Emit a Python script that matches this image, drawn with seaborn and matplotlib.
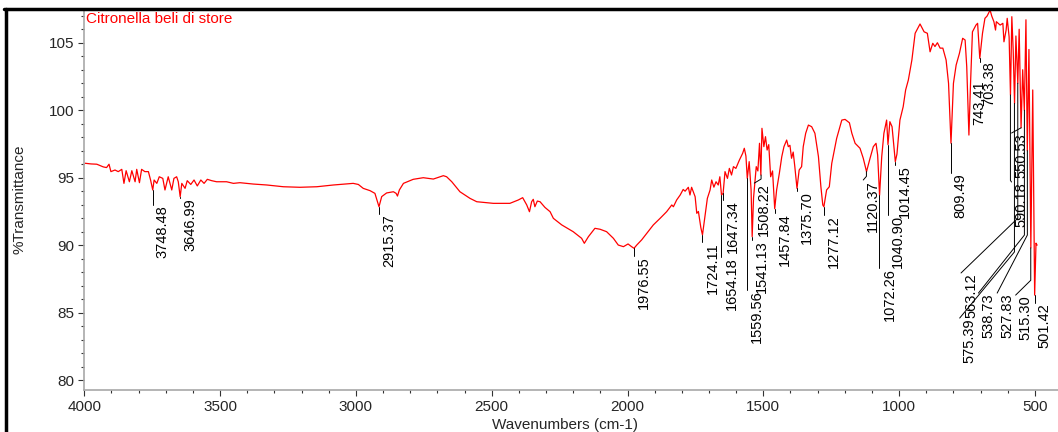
import matplotlib
matplotlib.use("Agg")
import numpy as np
import pandas as pd
import matplotlib.pyplot as plt
from matplotlib.lines import Line2D
from matplotlib.ticker import MultipleLocator
import seaborn as sns

# spectrum: wavenumber (cm-1) and %T
wavenumber = [3997, 3975, 3954, 3930, 3918, 3909, 3902, 3887, 3875, 3862, 3854, 3846,
              3834, 3825, 3813, 3807, 3797, 3789, 3777, 3764, 3756, 3748, 3743, 3733,
              3724, 3711, 3703, 3691, 3678, 3670, 3660, 3654, 3647, 3641, 3629, 3621,
              3608, 3596, 3584, 3571, 3559, 3547, 3531, 3513, 3476, 3451, 3427, 3378,
              3328, 3267, 3206, 3144, 3083, 3010, 2991, 2973, 2948, 2930, 2915, 2905,
              2887, 2862, 2852, 2847, 2840, 2825, 2789, 2752, 2715, 2678, 2666, 2647,
              2617, 2580, 2555, 2494, 2433, 2402, 2386, 2371, 2361, 2353, 2347, 2341,
              2332, 2322, 2304, 2285, 2273, 2242, 2200, 2169, 2159, 2144, 2120, 2101,
              2077, 2052, 2034, 2015, 1998, 1985, 1976, 1966, 1948, 1929, 1905, 1880,
              1856, 1837, 1831, 1819, 1806, 1795, 1788, 1776, 1770, 1764, 1751, 1745,
              1739, 1730, 1724, 1715, 1706, 1696, 1690, 1682, 1674, 1666, 1660, 1654,
              1648, 1641, 1632, 1625, 1617, 1610, 1601, 1588, 1576, 1570, 1564, 1559,
              1552, 1545, 1541, 1536, 1526, 1520, 1514, 1509, 1505, 1498, 1492, 1486,
              1480, 1473, 1466, 1458, 1451, 1441, 1432, 1424, 1414, 1408, 1402, 1396,
              1390, 1384, 1376, 1368, 1359, 1353, 1344, 1334, 1322, 1310, 1297, 1288,
              1281, 1277, 1267, 1257, 1248, 1230, 1211, 1199, 1183, 1174, 1162, 1144,
              1132, 1120, 1107, 1095, 1085, 1079, 1072, 1064, 1056, 1046, 1041, 1034,
              1026, 1019, 1014, 1008, 997, 985, 976, 966, 953, 941, 923, 908,
              896, 886, 876, 868, 859, 849, 839, 827, 818, 809, 800, 790,
              778, 766, 757, 751, 743, 737, 730, 717, 711, 703, 693, 684,
              676, 665, 659, 651, 645, 642, 628, 618, 614, 606, 602, 595,
              590, 585, 580, 575, 570, 563, 558, 551, 545, 539, 533, 528,
              522, 515, 508, 501, 496, 492]
transmittance = [96.07, 96.02, 96.00, 95.80, 95.75, 96.00, 95.45, 95.57, 95.45, 95.62, 94.58, 95.52,
                 94.70, 95.52, 94.70, 95.62, 94.63, 95.62, 95.45, 95.45, 94.83, 94.09, 94.83, 94.58,
                 95.07, 94.95, 94.09, 95.07, 94.09, 94.95, 95.07, 94.70, 93.59, 94.58, 94.21, 94.78,
                 94.50, 94.83, 94.39, 94.83, 94.58, 94.88, 94.78, 94.70, 94.70, 94.58, 94.63, 94.53,
                 94.46, 94.33, 94.29, 94.33, 94.46, 94.58, 94.50, 94.21, 94.04, 93.84, 92.85, 93.60,
                 93.87, 93.96, 93.84, 93.64, 94.09, 94.58, 94.88, 95.00, 94.90, 95.15, 95.07, 94.70,
                 93.96, 93.47, 93.22, 93.10, 93.10, 93.35, 93.52, 92.98, 92.48, 93.22, 93.40, 92.85,
                 93.27, 93.22, 92.80, 92.48, 91.99, 91.50, 91.00, 90.51, 90.14, 90.63, 91.25, 91.18,
                 91.00, 90.51, 90.01, 89.89, 90.09, 89.89, 89.77, 90.01, 90.39, 90.88, 91.50, 91.99,
                 92.48, 92.98, 92.85, 93.35, 93.72, 94.13, 94.00, 94.29, 93.72, 94.29, 93.59, 92.36,
                 92.50, 91.30, 90.76, 92.11, 93.47, 94.09, 94.83, 94.30, 94.70, 94.46, 95.07, 93.72,
                 93.84, 95.45, 94.95, 95.69, 95.20, 95.82, 95.69, 96.31, 96.81, 97.18, 96.60, 94.95,
                 96.19, 94.09, 90.63, 93.50, 95.82, 95.50, 97.55, 95.20, 98.66, 97.30, 98.04, 97.05,
                 97.45, 95.07, 95.50, 92.70, 94.09, 95.32, 96.56, 97.30, 97.79, 97.30, 97.40, 96.44,
                 96.90, 95.82, 94.21, 95.57, 95.82, 97.30, 98.29, 98.90, 98.78, 98.29, 96.56, 94.33,
                 92.98, 92.85, 94.09, 94.33, 96.06, 97.91, 99.27, 99.32, 99.07, 98.29, 97.55, 97.18,
                 96.44, 95.45, 96.44, 97.30, 97.55, 96.68, 93.70, 96.56, 98.29, 99.27, 97.45, 99.15,
                 98.78, 97.30, 96.19, 96.75, 99.27, 100.26, 101.50, 102.24, 103.72, 105.70, 106.39, 105.81,
                 105.70, 104.33, 104.96, 104.72, 105.00, 104.60, 104.60, 103.72, 101.99, 97.55, 101.99, 103.35,
                 104.21, 105.33, 105.20, 103.22, 98.16, 101.99, 105.81, 106.31, 106.44, 103.84, 105.70, 106.81,
                 106.98, 107.42, 106.98, 106.56, 105.94, 106.56, 106.31, 106.44, 105.07, 105.94, 106.81, 105.44,
                 101.13, 106.93, 104.46, 100.50, 105.50, 102.00, 106.00, 98.70, 103.00, 100.00, 106.70, 97.00,
                 104.50, 89.80, 101.50, 86.30, 90.15, 90.00]

# labelled peaks
peak_labels = ["3748.48", "3646.99", "2915.37", "1976.55", "1724.11", "1654.18", "1647.34",
               "1559.56", "1541.13", "1508.22", "1457.84", "1375.70", "1277.12", "1120.37",
               "1072.26", "1040.90", "1014.45", "809.49", "743.41", "703.38", "590.18",
               "575.39", "563.12", "550.53", "538.73", "527.83", "515.30", "501.42"]
peak_t = [94.09, 93.59, 92.85, 89.77, 90.76, 93.72, 93.84, 94.95, 90.63, 95.20, 92.70, 94.21,
          92.85, 95.45, 93.70, 97.45, 96.19, 97.55, 98.16, 103.84, 101.13, 100.50, 102.00,
          98.70, 100.00, 97.00, 89.80, 86.30]

# label layout: %T at the top of each label, %T where its leader bends, column in cm-1
label_top = [92.96, 93.50, 92.31, 89.20, 90.24, 89.13, 93.35, 86.68, 90.39, 94.60, 92.40,
             94.00, 92.24, 94.83, 88.31, 92.24, 95.95, 95.35, 102.24, 103.60, 94.68, 84.60,
             87.94, 98.31, 86.45, 86.45, 86.30, 85.70]
label_bend = [92.96, 93.50, 92.31, 89.20, 90.24, 89.13, 93.35, 86.68, 90.39, 94.90, 92.40,
              94.00, 92.24, 95.10, 88.31, 92.24, 95.95, 95.35, 98.16, 103.60, 94.80, 89.50,
              92.00, 98.70, 90.75, 90.75, 87.40, 85.70]
label_col = [3748.48, 3646.99, 2915.37, 1976.55, 1724.11, 1654.18, 1647.34, 1559.56, 1541.13,
             1533, 1457.84, 1375.70, 1277.12, 1132, 1072.26, 1040.90, 1014.45, 809.49, 743.41,
             703.38, 586, 777, 772, 586, 708, 639, 571, 501.42]

sns.set_theme(style="ticks")
plt.rcParams['font.family'] = ['Liberation Sans', 'DejaVu Sans']

spectrum = pd.DataFrame({"wn": wavenumber, "T": transmittance})

fig = plt.figure(figsize=(10.58, 4.32), dpi=100)
ax = fig.add_axes([84.3 / 1058, 42 / 432, 1 - 84.3 / 1058, 381 / 432])

sns.lineplot(data=spectrum, x="wn", y="T", ax=ax, color="#ff0000", lw=0.9,
             estimator=None, sort=False)

ax.set_xlim(4000, 415)
ax.set_ylim(79.27, 107.5)

# peak labels with leader lines
for i in range(len(peak_labels)):
    wn = float(peak_labels[i])
    if label_top[i] < peak_t[i]:
        ax.plot([wn, wn, label_col[i]], [peak_t[i], label_bend[i], label_top[i]],
                color="black", lw=0.7)
    ax.annotate(peak_labels[i], xy=(label_col[i], label_top[i]), xytext=(10, 0),
                textcoords="offset pixels", rotation=90, ha="center", va="top",
                fontsize=10.5, color="black")

ax.text(0.002, 0.993, "Citronella beli di store", transform=ax.transAxes,
        color="#ff0000", fontsize=11, ha="left", va="top")

ax.xaxis.set_major_locator(MultipleLocator(500))
ax.xaxis.set_minor_locator(MultipleLocator(100))
ax.yaxis.set_major_locator(MultipleLocator(5))
ax.yaxis.set_minor_locator(MultipleLocator(1))
ax.tick_params(which="major", length=4, width=0.8, color="#333333", labelsize=11, pad=3)
ax.tick_params(which="minor", length=2.5, width=0.8, color="#333333")

for s in ["top", "right"]:
    ax.spines[s].set_visible(False)
for s in ["left", "bottom"]:
    ax.spines[s].set_color("#a8a8a8")
    ax.spines[s].set_linewidth(1.2)

ax.set_xlabel("Wavenumbers (cm-1)", fontsize=11)
ax.set_ylabel("%Transmittance", fontsize=11)
ax.xaxis.set_label_coords(0.494, -0.073)
ax.yaxis.set_label_coords(-0.059, 0.5)

# outer frame of the page
fig.add_artist(Line2D([0.004, 1.0], [0.979, 0.979], transform=fig.transFigure,
                      color="black", lw=2.5))
fig.add_artist(Line2D([0.0057, 0.0057], [0.0, 0.979], transform=fig.transFigure,
                      color="black", lw=2.5))

fig.savefig("out.png", dpi=100)
